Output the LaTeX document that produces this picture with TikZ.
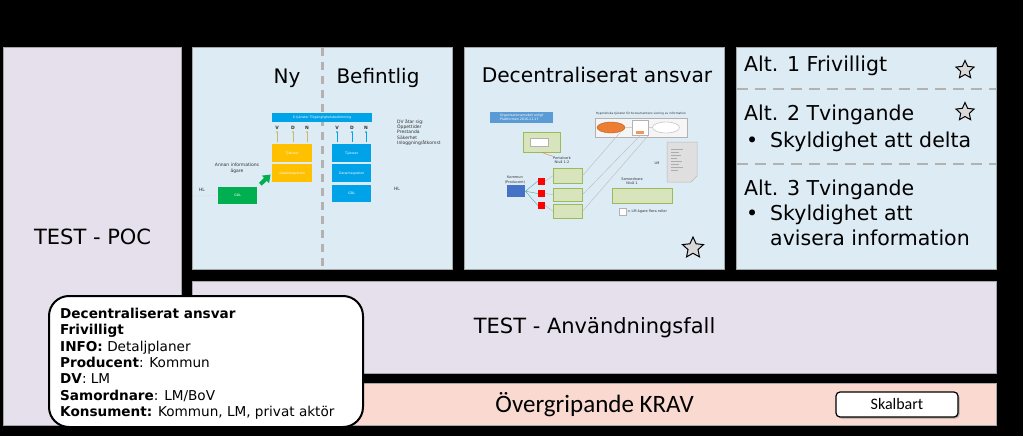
\documentclass[tikz,border=0pt]{standalone}
\usepackage{fontspec}
\setmainfont{DejaVu Sans}
\newfontfamily\calfont{Carlito}
\usetikzlibrary{shapes.geometric,arrows.meta,shadows}

\definecolor{ljusbla}{RGB}{220,235,244}
\definecolor{lavendel}{RGB}{229,224,236}
\definecolor{laxrosa}{RGB}{250,218,208}
\definecolor{ramgra}{RGB}{166,166,166}
\definecolor{etjbla}{RGB}{0,162,232}
\definecolor{gulorange}{RGB}{255,192,0}
\definecolor{gulpil}{RGB}{205,185,95}
\definecolor{gdlgron}{RGB}{0,176,80}
\definecolor{orgbla}{RGB}{91,155,213}
\definecolor{kombla}{RGB}{68,114,196}
\definecolor{ljusgron}{RGB}{216,228,188}
\definecolor{kantgron}{RGB}{155,187,89}
\definecolor{ellorange}{RGB}{237,125,49}

\tikzset{
  panel/.style={draw=ramgra, line width=1.2pt, inner sep=0pt, anchor=north west},
  stortext/.style={font=\fontsize{21}{25}\selectfont, inner sep=0pt},
  minibox/.style={anchor=north west, inner sep=0pt, text=white, font=\fontsize{3.2}{3.8}\selectfont, align=center},
  pytte/.style={inner sep=0pt, font=\fontsize{3.5}{4.2}\selectfont, text=black!80, align=center},
  vdn/.style={inner sep=0pt, font=\bfseries\fontsize{4.5}{5}\selectfont, text=black!80},
  smapil/.style={-{Stealth[length=2pt,width=2.2pt]}, line width=0.8pt, shorten <=2pt, shorten >=1pt},
  gronpil/.style={-{Triangle[length=7pt,width=10pt]}, line width=4pt, draw=gdlgron, shorten <=4pt, shorten >=2pt},
  tunnlinje/.style={draw=gray!50, line width=0.45pt},
  gronruta/.style={anchor=north west, inner sep=0pt, fill=ljusgron, draw=kantgron, line width=0.5pt},
  stjarna/.style={star, star points=5, star point ratio=2.1, draw=black, fill=gray!30, line width=1pt, inner sep=0pt},
  alttext/.style={anchor=base west, inner sep=0pt, font=\fontsize{20.5}{25}\selectfont},
  streck/.style={draw=gray!60, line width=2.5pt, dash pattern=on 11pt off 7pt},
  bubbla/.style={anchor=north west, draw=black, line width=2pt, fill=white, rounded corners=20pt, inner sep=0pt},
  knapp/.style={draw=black, line width=1.2pt, fill=white, rounded corners=4pt,
    drop shadow={opacity=0.6, shadow xshift=1.5pt, shadow yshift=-1.5pt},
    inner sep=0pt, font=\calfont\fontsize{16}{19}\selectfont},
}

\begin{document}
\begin{tikzpicture}[x=1pt, y=-1pt]

  % 背景
  \useasboundingbox (0,0) rectangle (1023,436);
  \fill[black] (0,0) rectangle (1023,436);

  % 主面板
  \node[panel, fill=lavendel, minimum width=178pt, minimum height=378pt, stortext] (poc) at (3,47) {TEST - POC};
  \node[panel, fill=ljusbla, minimum width=260pt, minimum height=222pt] (ny) at (192,47) {};
  \node[panel, fill=ljusbla, minimum width=260pt, minimum height=222pt] (dec) at (464,47) {};
  \node[panel, fill=ljusbla, minimum width=260pt, minimum height=222pt] (alt) at (736,47) {};
  \node[panel, fill=lavendel, minimum width=804pt, minimum height=92pt, stortext] (anv) at (192,281) {TEST - Användningsfall};
  \node[panel, fill=laxrosa, minimum width=804pt, minimum height=42pt,
        font=\calfont\fontsize{25}{30}\selectfont] (krav) at (192,383) {Övergripande KRAV};

  % 缩略图一：Ny / Befintlig
  \node[stortext, font=\fontsize{20}{24}\selectfont] (ny-rubrik) at (287,78) {Ny};
  \node[stortext, font=\fontsize{20}{24}\selectfont] (bef-rubrik) at (378,78) {Befintlig};
  \draw[gray!60, line width=3pt, dash pattern=on 8pt off 6pt] (322,48) -- (322,268);

  \node[minibox, fill=etjbla, minimum width=100pt, minimum height=9pt] (etj) at (272,113) {E-tjänster Tillgänglighetsbedömning};
  \node[minibox, fill=gulorange, minimum width=40pt, minimum height=18pt] (tjl) at (272,144) {Tjänster};
  \node[minibox, fill=gulorange, minimum width=40pt, minimum height=18pt] (dil) at (272,164) {Dataintegration};
  \node[minibox, fill=etjbla, minimum width=39pt, minimum height=18pt] (tjr) at (332,144) {Tjänster};
  \node[minibox, fill=etjbla, minimum width=39pt, minimum height=18pt] (dir) at (332,164) {Dataintegration};
  \node[minibox, fill=etjbla, minimum width=39pt, minimum height=17pt] (gdlr) at (332,185) {GDL};
  \node[minibox, fill=gdlgron, minimum width=39pt, minimum height=17pt] (gdl) at (218,187) {GDL};

  \foreach \b/\xl/\xr in {V/277/337, D/293/352, N/307/366} {
    \node[vdn] (l\b) at (\xl,128) {\b};
    \node[vdn] (r\b) at (\xr,128) {\b};
    \draw[smapil, draw=gulpil] (tjl.north -| l\b) -- (l\b.south);
    \draw[smapil, draw=etjbla] (tjr.north -| r\b) -- (r\b.south);
  }

  \draw[gronpil] (gdl.north east) -- (dil.west);
  \node[pytte, font=\fontsize{4.5}{6}\selectfont] (annan) at (237,168) {Annan informations\\ägare};
  \node[pytte, font=\fontsize{4.5}{6}\selectfont] (hl-v) at (202,190) {HL};
  \coordinate (hl-start) at (193,196);
  \draw[gray!50, line width=0.5pt, dotted] (hl-start) -- (gdl.west);
  \node[pytte, font=\fontsize{4.5}{6}\selectfont] (hl-h) at (397,189) {HL};
  \node[pytte, anchor=north west, align=left, font=\fontsize{4.5}{5.3}\selectfont] (dv) at (397,119)
       {DV åtar sig:\\Öppettider\\Prestanda\\Säkerhet\\Inloggning/åtkomst};

  % 缩略图二：Decentraliserat ansvar
  \node[stortext, font=\fontsize{20.2}{24}\selectfont] (dec-rubrik) at (597,75) {Decentraliserat ansvar};
  \node[minibox, fill=orgbla, minimum width=63pt, minimum height=11pt, align=left] (org) at (490,112)
       {Organisationsmodell enligt\\Plattformen 2016-11-17};
  \node[pytte, font=\fontsize{2.9}{3.4}\selectfont] (hyp-rubrik) at (641,114)
       {Hypotetiska tjänster för Konsumentens visning av information};
  \node[anchor=north west, inner sep=0pt, draw=gray!60, fill=gray!8, line width=0.6pt,
        minimum width=92pt, minimum height=19pt] (hyp) at (595,118) {};
  \node[ellipse, fill=ellorange, draw=ellorange!70!black, line width=0.3pt,
        minimum width=28pt, minimum height=11pt, inner sep=0pt] (e1) at (611,127.5) {};
  \node[anchor=north west, inner sep=0pt, draw=gray!60, fill=white, line width=0.4pt,
        minimum width=16pt, minimum height=15pt] (s1) at (632,120) {};
  \node[anchor=north west, inner sep=0pt, fill=ellorange!80, minimum width=8pt, minimum height=3pt] (s1o) at (636,131) {};
  \node[ellipse, draw=gray!60, fill=white, line width=0.4pt,
        minimum width=27pt, minimum height=11pt, inner sep=0pt] (e2) at (666,127.5) {};
  \draw[tunnlinje] (e1.east) -- (s1.west);
  \draw[tunnlinje] (s1.east) -- (e2.west);

  % 文件图标
  \filldraw[fill=gray!25, draw=gray!55, line width=0.5pt]
       (667,142) -- (697,142) -- (697,176) -- (691,182) -- (667,182) -- cycle;
  \foreach \yy/\len in {149/12, 152/8, 155/10, 158/6, 161/11, 164/8, 167/12, 170/7}
    \draw[gray!65, line width=0.3pt] (671,\yy) -- ++(\len,0);
  \node[pytte] (lm) at (657,163) {LM};

  \node[gronruta, minimum width=37pt, minimum height=20pt] (bild) at (523,132) {};
  \node[anchor=north west, inner sep=0pt, draw=gray!60, fill=white, line width=0.3pt,
        minimum width=18pt, minimum height=8pt] (bild-in) at (530,138) {};
  \node[pytte] (portal) at (562,160) {Portalverk\\Nivå 1-2};
  \draw[ellorange, line width=0.4pt] (bild.south) -- (portal.north west);

  \node[gronruta, minimum width=29pt, minimum height=15pt] (g1) at (553,168) {};
  \node[gronruta, minimum width=29pt, minimum height=13pt] (g2) at (553,188) {};
  \node[gronruta, minimum width=29pt, minimum height=14pt] (g3) at (553,204) {};

  \node[pytte] (kom-text) at (515,180) {Kommun\\(Producent)};
  \node[anchor=north west, inner sep=0pt, fill=kombla, minimum width=18pt, minimum height=12pt] (kom) at (507,185) {};
  \foreach \i/\yy in {1/181, 2/193.5, 3/205.5} {
    \node[fill=red, inner sep=0pt, minimum size=7pt] (rk\i) at (541.5,\yy) {};
    \draw[teal!70, line width=0.4pt] (kom.east) -- (rk\i.west);
    \draw[tunnlinje] (rk\i.east) -- (g\i.west);
  }
  \draw[tunnlinje] (g1.east) -- (e1.south east);
  \draw[tunnlinje] (g2.east) -- (s1.south);
  \draw[tunnlinje] (g3.east) -- (s1.south east);

  \node[pytte] (sam-text) at (632,181) {Samordnare\\Nivå 1};
  \node[gronruta, minimum width=60pt, minimum height=15pt] (sam) at (612,188) {};
  \node[anchor=north west, inner sep=0pt, draw=gray!60, fill=white, line width=0.4pt, minimum size=6.5pt] (forkl) at (619,208) {};
  \node[pytte, anchor=west, xshift=1.5pt] (forkl-text) at (forkl.east) {= LM ägare flera roller};
  \node[stjarna, minimum size=22pt] (stj3) at (693,248) {};

  % 右侧面板：Alt. 1-3
  \node[alttext] (alt1) at (744,72) {Alt. 1 Frivilligt};
  \node[stjarna, minimum size=19pt] (stj1) at (965,70) {};
  \draw[streck] (737,89) -- (996,89);
  \node[alttext] (alt2) at (744,121) {Alt. 2 Tvingande};
  \node[stjarna, minimum size=19pt] (stj2) at (965,112) {};
  \node[alttext] (pkt2) at (746,147) {•};
  \node[alttext] (skyl2) at (770,147) {Skyldighet att delta};
  \draw[streck] (737,164) -- (996,164);
  \node[alttext] (alt3) at (744,195) {Alt. 3 Tvingande};
  \node[alttext] (pkt3) at (746,220) {•};
  \node[alttext] (skyl3) at (770,220) {Skyldighet att};
  \node[alttext] (avis3) at (770,245) {avisera information};

  % 说明气泡
  \node[bubbla, minimum width=314pt, minimum height=131pt] (bubbla) at (48,295) {};
  \node[anchor=north west, inner sep=0pt, align=left, font=\fontsize{13.6}{16.3}\selectfont] (info) at (60,308)
       {\textbf{Decentraliserat ansvar}\\
        \textbf{Frivilligt}\\
        \textbf{INFO:} Detaljplaner\\
        \textbf{Producent}: Kommun\\
        \textbf{DV}: LM\\
        \textbf{Samordnare}: LM/BoV\\
        \textbf{Konsument:} Kommun, LM, privat aktör};

  % 按钮
  \node[knapp, minimum width=122pt, minimum height=25pt] (skal) at (897,404.5) {Skalbart};

\end{tikzpicture}
\end{document}
